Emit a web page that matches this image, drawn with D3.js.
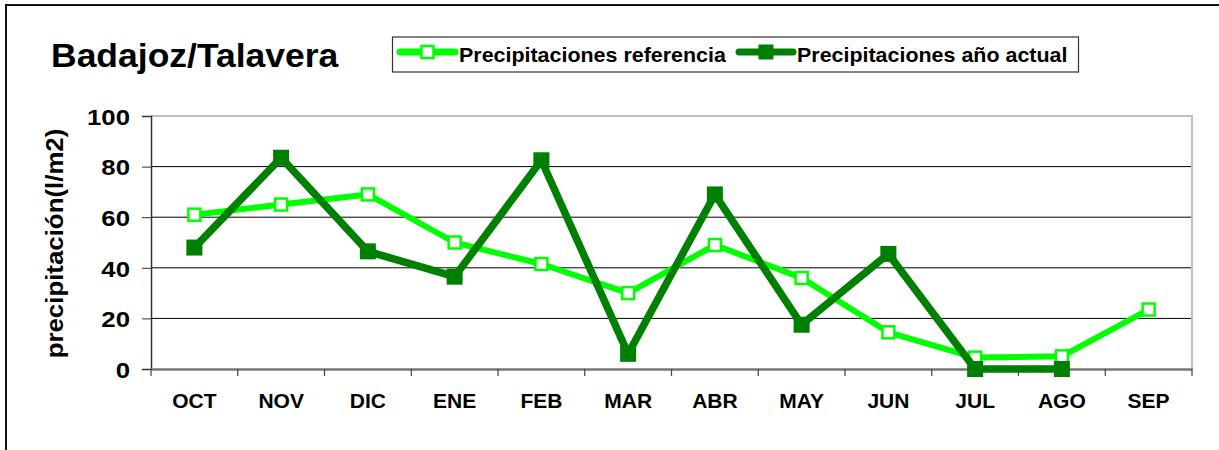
<!DOCTYPE html>
<html>
<head>
<meta charset="utf-8">
<script src="https://cdn.jsdelivr.net/npm/d3@7"></script>
<style>
  body { margin: 0; background: #fff; }
  text { font-family: "Liberation Sans", Arial, sans-serif; font-weight: bold; fill: #000; }
</style>
</head>
<body>
<div id="chart"></div>
<script>
const months = ["OCT", "NOV", "DIC", "ENE", "FEB", "MAR", "ABR", "MAY", "JUN", "JUL", "AGO", "SEP"];
const referencia = [61, 65, 69, 50, 41.5, 30, 49, 36, 14.5, 4.5, 5, 23.5];
const actual = [48, 83.5, 46.5, 36.5, 82.5, 6, 69, 17.5, 45.5, 0, 0, null];
const yTicks = [0, 20, 40, 60, 80, 100];
const seriesNames = ["Precipitaciones referencia", "Precipitaciones año actual"];

const width = 1219;
const height = 450;
const plot = { left: 151, right: 1192, top: 116, bottom: 369 };
const light = "#00ff00";
const dark = "#008000";

const svg = d3.select("#chart").append("svg")
    .attr("width", width)
    .attr("height", height);

// the source renders its fonts a bit wide, so scale glyphs horizontally
function stretch(sel, k) {
    sel.each(function() {
        const t = d3.select(this);
        const tx = +t.attr("x") || 0;
        const ty = +t.attr("y") || 0;
        const base = t.attr("transform") || "";
        t.attr("x", null).attr("y", null)
            .attr("transform", `${base} translate(${tx},${ty}) scale(${k},1)`);
    });
}

// outer frame
svg.append("rect")
    .attr("x", 6).attr("y", 5)
    .attr("width", 1300).attr("height", 600)
    .attr("fill", "none")
    .attr("stroke", "#111")
    .attr("stroke-width", 2);

const x = d3.scaleBand().domain(months).range([plot.left, plot.right]);
const y = d3.scaleLinear().domain([0, 100]).range([plot.bottom, plot.top]);

// gridlines
svg.append("g")
    .selectAll("line")
    .data(yTicks.filter(d => d > 0 && d < 100))
    .join("line")
    .attr("x1", plot.left).attr("x2", plot.right)
    .attr("y1", d => y(d)).attr("y2", d => y(d))
    .attr("stroke", "#000")
    .attr("stroke-width", 1);

// plot area border top/right
svg.append("path")
    .attr("d", `M${plot.left},${y(100)}H${plot.right}V${plot.bottom}`)
    .attr("fill", "none")
    .attr("stroke", "#c0c0c0")
    .attr("stroke-width", 2);

// y axis
const yAxis = svg.append("g")
    .attr("transform", `translate(${plot.left},0)`)
    .call(d3.axisLeft(y).tickValues(yTicks).tickSize(9).tickPadding(12));
yAxis.select(".domain").attr("stroke", "#333").attr("stroke-width", 1.5);
yAxis.selectAll(".tick line").attr("stroke", "#333");
yAxis.selectAll("text")
    .attr("font-size", 23)
    .attr("font-family", "Liberation Sans, Arial, sans-serif")
    .attr("dy", "0.36em")
    .attr("y", 0)
    .attr("x", -21)
    .call(stretch, 1.12);

// x axis
const xAxis = svg.append("g")
    .attr("transform", `translate(0,${plot.bottom})`)
    .call(d3.axisBottom(x).tickSize(0).tickPadding(0));
xAxis.select(".domain").attr("stroke", "#777").attr("stroke-width", 2.5);
xAxis.selectAll("text")
    .attr("font-size", 21)
    .attr("font-family", "Liberation Sans, Arial, sans-serif")
    .attr("y", 39)
    .attr("dy", 0);
// ticks on category boundaries
svg.append("g")
    .selectAll("line")
    .data(months.concat(["end"]))
    .join("line")
    .attr("x1", (d, i) => plot.left + i * x.step())
    .attr("x2", (d, i) => plot.left + i * x.step())
    .attr("y1", plot.bottom).attr("y2", plot.bottom + 7)
    .attr("stroke", "#444")
    .attr("stroke-width", 1.2);

// y title
svg.append("text")
    .attr("transform", `translate(63,${(plot.top + plot.bottom) / 2 + 1}) rotate(-90)`)
    .attr("text-anchor", "middle")
    .attr("font-size", 23.5)
    .text("precipitación(l/m2)")
    .call(stretch, 1.1);

// title
svg.append("text")
    .attr("x", 51).attr("y", 67)
    .attr("font-size", 33.5)
    .text("Badajoz/Talavera")
    .call(stretch, 1.06);

// series
const line = d3.line()
    .defined(d => d !== null)
    .x((d, i) => x(months[i]) + x.bandwidth() / 2)
    .y(d => y(d));

svg.append("path")
    .datum(referencia)
    .attr("d", line)
    .attr("fill", "none")
    .attr("stroke", light)
    .attr("stroke-width", 6)
    .attr("stroke-linejoin", "round");

svg.append("g")
    .selectAll("rect")
    .data(referencia)
    .join("rect")
    .attr("x", (d, i) => x(months[i]) + x.bandwidth() / 2 - 6)
    .attr("y", d => y(d) - 6)
    .attr("width", 12).attr("height", 12)
    .attr("fill", "#fff")
    .attr("stroke", light)
    .attr("stroke-width", 2.5);

svg.append("path")
    .datum(actual)
    .attr("d", line)
    .attr("fill", "none")
    .attr("stroke", dark)
    .attr("stroke-width", 7.5)
    .attr("stroke-linejoin", "miter");

svg.append("g")
    .selectAll("rect")
    .data(actual.map((v, i) => ({ v, m: months[i] })).filter(d => d.v !== null))
    .join("rect")
    .attr("x", d => x(d.m) + x.bandwidth() / 2 - 8)
    .attr("y", d => y(d.v) - 8)
    .attr("width", 16).attr("height", 16)
    .attr("fill", dark);

// legend
const legend = svg.append("g");
legend.append("rect")
    .attr("x", 392.5).attr("y", 37)
    .attr("width", 686).attr("height", 35)
    .attr("fill", "#fff")
    .attr("stroke", "#333")
    .attr("stroke-width", 1.2);

const legendItems = [
    { name: seriesNames[0], color: light, x0: 397, x1: 458, tx: 459, open: true },
    { name: seriesNames[1], color: dark, x0: 736, x1: 796, tx: 797, open: false }
];
legendItems.forEach(item => {
    legend.append("line")
        .attr("x1", item.x0 + 3).attr("x2", item.x1 - 3)
        .attr("y1", 52).attr("y2", 52)
        .attr("stroke", item.color)
        .attr("stroke-width", 7)
        .attr("stroke-linecap", "round");
    const cx = (item.x0 + item.x1) / 2;
    if (item.open) {
        legend.append("rect")
            .attr("x", cx - 6).attr("y", 46)
            .attr("width", 12).attr("height", 12)
            .attr("fill", "#fff")
            .attr("stroke", item.color)
            .attr("stroke-width", 2.5);
    } else {
        legend.append("rect")
            .attr("x", cx - 7.5).attr("y", 44.5)
            .attr("width", 15).attr("height", 15)
            .attr("fill", item.color);
    }
    legend.append("text")
        .attr("x", item.tx).attr("y", 61.5)
        .attr("font-size", 19.5)
        .text(item.name)
        .call(stretch, 1.1);
});
</script>
</body>
</html>
